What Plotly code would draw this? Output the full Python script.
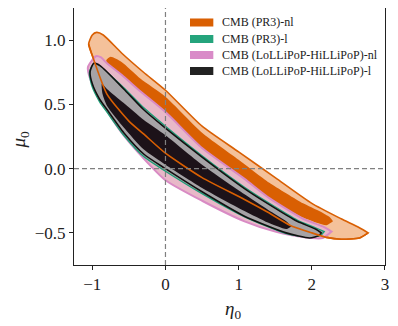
import plotly.graph_objects as go

# ── Contour boundaries (upper edge / lower edge, left -> right) ──

# CMB (PR3)-nl, 95% region
pr3nl_95_up_x = [-1.05, -1.00, -0.94, -0.85, -0.60, -0.30, 0.00, 0.50, 1.00, 1.50, 2.00, 2.40, 2.65, 2.77]
pr3nl_95_up_y = [0.97, 1.04, 1.06, 1.04, 0.90, 0.75, 0.61, 0.33, 0.13, -0.07, -0.27, -0.39, -0.46, -0.50]
pr3nl_95_lo_x = [-1.05, -1.00, -0.80, -0.50, -0.30, 0.00, 0.50, 1.08, 1.40, 1.70, 2.00, 2.20, 2.40, 2.65, 2.77]
pr3nl_95_lo_y = [0.97, 0.88, 0.58, 0.37, 0.27, 0.12, -0.07, -0.24, -0.34, -0.44, -0.50, -0.535, -0.55, -0.54, -0.50]

# CMB (PR3)-nl, 68% region
pr3nl_68_up_x = [-0.81, -0.75, -0.60, -0.34, 0.00, 0.50, 1.00, 1.42, 1.88, 2.10, 2.25, 2.29]
pr3nl_68_up_y = [0.84, 0.87, 0.83, 0.70, 0.56, 0.28, 0.07, -0.11, -0.27, -0.33, -0.38, -0.41]
pr3nl_68_lo_x = [-0.81, -0.60, -0.30, 0.00, 0.50, 1.08, 1.42, 1.88, 2.20, 2.29]
pr3nl_68_lo_y = [0.84, 0.71, 0.56, 0.41, 0.14, -0.10, -0.24, -0.38, -0.44, -0.41]

# CMB (LoLLiPoP-HiLLiPoP)-nl, 95% region
hlnl_95_up_x = [-1.06, -0.95, -0.88, -0.80, -0.60, -0.34, 0.00, 0.50, 1.08, 1.42, 1.88, 2.15, 2.27]
hlnl_95_up_y = [0.79, 0.875, 0.865, 0.82, 0.73, 0.60, 0.44, 0.16, -0.08, -0.23, -0.39, -0.45, -0.49]
hlnl_95_lo_x = [-1.06, -1.03, -0.95, -0.80, -0.60, -0.30, 0.00, 0.50, 1.08, 1.50, 1.90, 2.15, 2.27]
hlnl_95_lo_y = [0.79, 0.70, 0.60, 0.45, 0.28, 0.08, -0.09, -0.25, -0.41, -0.49, -0.535, -0.54, -0.49]

# CMB (PR3)-l, 95% region
pr3l_95_up_x = [-1.04, -0.99, -0.89, -0.57, -0.30, 0.00, 0.50, 1.08, 1.42, 1.80, 2.05, 2.17]
pr3l_95_up_y = [0.75, 0.81, 0.79, 0.63, 0.475, 0.33, 0.10, -0.145, -0.27, -0.40, -0.46, -0.49]
pr3l_95_lo_x = [-1.04, -1.01, -0.90, -0.80, -0.57, -0.29, 0.00, 0.50, 1.08, 1.65, 1.97, 2.12, 2.17]
pr3l_95_lo_y = [0.75, 0.65, 0.52, 0.44, 0.26, 0.09, -0.02, -0.195, -0.375, -0.505, -0.535, -0.52, -0.49]

# CMB (LoLLiPoP-HiLLiPoP)-l, 95% region
hll_95_up_x = [-1.03, -0.98, -0.89, -0.57, -0.30, 0.00, 0.50, 1.08, 1.42, 1.80, 2.05, 2.13]
hll_95_up_y = [0.755, 0.82, 0.80, 0.62, 0.46, 0.315, 0.09, -0.155, -0.28, -0.41, -0.47, -0.50]
hll_95_lo_x = [-1.03, -1.00, -0.90, -0.80, -0.57, -0.29, 0.00, 0.50, 1.08, 1.65, 1.97, 2.10, 2.13]
hll_95_lo_y = [0.755, 0.66, 0.54, 0.46, 0.28, 0.11, 0.00, -0.18, -0.37, -0.50, -0.54, -0.52, -0.50]

# CMB (LoLLiPoP-HiLLiPoP)-l, 68% region
hll_68_up_x = [-0.87, -0.80, -0.57, -0.30, 0.00, 0.50, 1.08, 1.40, 1.65, 1.72]
hll_68_up_y = [0.66, 0.62, 0.51, 0.38, 0.26, 0.03, -0.20, -0.32, -0.41, -0.45]
hll_68_lo_x = [-0.87, -0.86, -0.80, -0.57, -0.30, 0.00, 0.50, 1.08, 1.40, 1.65, 1.72]
hll_68_lo_y = [0.66, 0.58, 0.49, 0.32, 0.15, 0.03, -0.15, -0.33, -0.42, -0.47, -0.45]

legend_names = ["CMB (PR3)-nl", "CMB (PR3)-l", "CMB (LoLLiPoP-HiLLiPoP)-nl", "CMB (LoLLiPoP-HiLLiPoP)-l"]
legend_colors = ["#d95f02", "#24a47c", "#d98bc8", "#222222"]

FONT = "Liberation Serif"


def ring(ux, uy, lx, ly):
    return ux + lx[::-1], uy + ly[::-1]


def region(ux, uy, lx, ly, fill, edge, width=1.6):
    xs, ys = ring(ux, uy, lx, ly)
    return go.Scatter(
        x=xs, y=ys, mode="lines", fill="toself", fillcolor=fill,
        line=dict(color=edge, width=width, shape="spline", smoothing=0.6),
        showlegend=False, hoverinfo="skip",
    )


fig = go.Figure()
fig.add_trace(region(pr3nl_95_up_x, pr3nl_95_up_y, pr3nl_95_lo_x, pr3nl_95_lo_y, "#f4c19a", "#d95f02"))
fig.add_trace(region(pr3nl_68_up_x, pr3nl_68_up_y, pr3nl_68_lo_x, pr3nl_68_lo_y, "#d95f02", "rgba(0,0,0,0)", 0))
fig.add_trace(region(hlnl_95_up_x, hlnl_95_up_y, hlnl_95_lo_x, hlnl_95_lo_y, "#e8b8c8", "#d98ac4", 2))
fig.add_trace(region(pr3l_95_up_x, pr3l_95_up_y, pr3l_95_lo_x, pr3l_95_lo_y, "#a6a3a6", "#1b9e77", 1.3))
fig.add_trace(region(hll_95_up_x, hll_95_up_y, hll_95_lo_x, hll_95_lo_y, "#a6a3a6", "#111111"))
fig.add_trace(region(hll_68_up_x, hll_68_up_y, hll_68_lo_x, hll_68_lo_y, "#1c1219", "rgba(0,0,0,0)", 0))
# PR3-nl 95% lower edge shows through the darker regions
fig.add_trace(go.Scatter(
    x=pr3nl_95_lo_x, y=pr3nl_95_lo_y, mode="lines",
    line=dict(color="#d95f02", width=1.6, shape="spline", smoothing=0.6),
    showlegend=False, hoverinfo="skip",
))

fig.add_hline(y=0, line=dict(color="#808080", width=1.2, dash="5px,3px"))
fig.add_vline(x=0, line=dict(color="#808080", width=1.2, dash="5px,3px"))

# legend drawn by hand so the row spacing matches the matplotlib one
row_y = [0.9436, 0.8794, 0.8171, 0.7549]
for name, col, ry in zip(legend_names, legend_colors, row_y):
    fig.add_shape(type="rect", xref="paper", yref="paper",
                  x0=0.373, x1=0.448, y0=ry - 0.0156, y1=ry + 0.0156,
                  fillcolor=col, line=dict(width=0))
    fig.add_annotation(x=0.47, y=ry, xref="paper", yref="paper", text=name,
                       showarrow=False, xanchor="left", yanchor="middle",
                       font=dict(family=FONT, size=12, color="#222"))

# axis labels
fig.add_annotation(x=0.51, y=-0.175, xref="paper", yref="paper", text="<i>η</i><sub>0</sub>",
                   showarrow=False, xanchor="center", yanchor="middle",
                   font=dict(family=FONT, size=19, color="#222"))
fig.add_annotation(x=-0.172, y=0.486, xref="paper", yref="paper", text="<i>μ</i><sub>0</sub>",
                   showarrow=False, xanchor="center", yanchor="middle", textangle=-90,
                   font=dict(family=FONT, size=19, color="#222"))

axis_common = dict(
    showgrid=False, zeroline=False, showline=True, linecolor="#222", linewidth=1,
    mirror=True, ticks="outside", ticklen=4, tickcolor="#222", automargin=False,
    tickfont=dict(family=FONT, size=17, color="#222"),
)

# page body adds an 8px offset, so the figure is 8px smaller than the window
fig.update_layout(
    width=390, height=318,
    margin=dict(l=66, r=13, t=0, b=61, autoexpand=False),
    paper_bgcolor="white", plot_bgcolor="white",
    xaxis=dict(range=[-1.25, 3.0001], tickvals=[-1, 0, 1, 2, 3], ticktext=["−1", "0", "1", "2", "3"],
               **axis_common),
    yaxis=dict(range=[-0.75, 1.25], tickvals=[-0.5, 0, 0.5, 1.0], ticktext=["−0.5", "0.0", "0.5", "1.0"],
               **axis_common),
    showlegend=False,
)

fig.write_html("out.html")
